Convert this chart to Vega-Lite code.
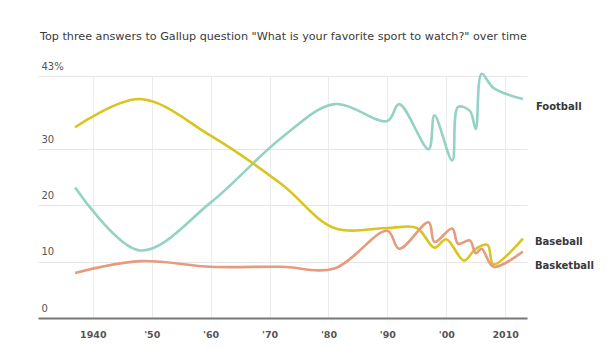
{
  "$schema": "https://vega.github.io/schema/vega-lite/v6.json",
  "width": 489,
  "height": 242,
  "autosize": {"type": "none"},
  "padding": {"left": 38, "top": 76, "right": 88, "bottom": 41},
  "background": "white",
  "title": {
    "text": "Top three answers to Gallup question \"What is your favorite sport to watch?\" over time",
    "anchor": "start",
    "frame": "group",
    "offset": 19,
    "fontSize": 11.2,
    "font": "DejaVu Sans",
    "fontWeight": "normal",
    "color": "#3a3a3a",
    "dx": 2
  },
  "config": {"view": {"stroke": null}},
  "data": {
    "values": [
      {"sport": "Football", "year": 1937, "pct": 23.2},
      {"sport": "Football", "year": 1948, "pct": 12.0},
      {"sport": "Football", "year": 1960, "pct": 20.5},
      {"sport": "Football", "year": 1972, "pct": 32.0},
      {"sport": "Football", "year": 1981, "pct": 38.0},
      {"sport": "Football", "year": 1990, "pct": 35.0},
      {"sport": "Football", "year": 1992, "pct": 38.0},
      {"sport": "Football", "year": 1997, "pct": 30.0},
      {"sport": "Football", "year": 1998, "pct": 36.0},
      {"sport": "Football", "year": 2001, "pct": 28.0},
      {"sport": "Football", "year": 2002, "pct": 37.5},
      {"sport": "Football", "year": 2004, "pct": 36.8},
      {"sport": "Football", "year": 2005, "pct": 33.6},
      {"sport": "Football", "year": 2006, "pct": 43.4},
      {"sport": "Football", "year": 2008, "pct": 40.9},
      {"sport": "Football", "year": 2013, "pct": 38.9},
      {"sport": "Baseball", "year": 1937, "pct": 33.9},
      {"sport": "Baseball", "year": 1948, "pct": 38.9},
      {"sport": "Baseball", "year": 1960, "pct": 32.4},
      {"sport": "Baseball", "year": 1972, "pct": 23.8},
      {"sport": "Baseball", "year": 1981, "pct": 16.0},
      {"sport": "Baseball", "year": 1990, "pct": 16.0},
      {"sport": "Baseball", "year": 1995, "pct": 16.0},
      {"sport": "Baseball", "year": 1998, "pct": 12.5},
      {"sport": "Baseball", "year": 2000, "pct": 14.0},
      {"sport": "Baseball", "year": 2003, "pct": 10.2},
      {"sport": "Baseball", "year": 2005, "pct": 12.3},
      {"sport": "Baseball", "year": 2007, "pct": 13.0},
      {"sport": "Baseball", "year": 2008, "pct": 9.5},
      {"sport": "Baseball", "year": 2013, "pct": 14.1},
      {"sport": "Basketball", "year": 1937, "pct": 8.0},
      {"sport": "Basketball", "year": 1948, "pct": 10.1},
      {"sport": "Basketball", "year": 1960, "pct": 9.1},
      {"sport": "Basketball", "year": 1972, "pct": 9.1},
      {"sport": "Basketball", "year": 1981, "pct": 8.8},
      {"sport": "Basketball", "year": 1990, "pct": 15.5},
      {"sport": "Basketball", "year": 1992, "pct": 12.3},
      {"sport": "Basketball", "year": 1997, "pct": 17.0},
      {"sport": "Basketball", "year": 1998, "pct": 13.5},
      {"sport": "Basketball", "year": 2001, "pct": 15.9},
      {"sport": "Basketball", "year": 2002, "pct": 13.2},
      {"sport": "Basketball", "year": 2004, "pct": 13.8},
      {"sport": "Basketball", "year": 2005, "pct": 11.5},
      {"sport": "Basketball", "year": 2006, "pct": 12.3},
      {"sport": "Basketball", "year": 2008, "pct": 9.1},
      {"sport": "Basketball", "year": 2013, "pct": 11.8}
    ]
  },
  "layer": [
    {
      "mark": {"type": "line", "interpolate": "catmull-rom", "strokeWidth": 2.6},
      "encoding": {
        "x": {
          "field": "year",
          "type": "quantitative",
          "scale": {"domain": [1930.7, 2013.7], "nice": false, "zero": false},
          "axis": {
            "values": [1940, 1950, 1960, 1970, 1980, 1990, 2000, 2010],
            "title": null,
            "grid": true,
            "gridColor": "#ececec",
            "ticks": false,
            "domain": true,
            "domainColor": "#777777",
            "domainWidth": 2,
            "labelPadding": 11,
            "labelFontSize": 9.5,
            "labelFont": "DejaVu Sans",
            "labelFontWeight": "bold",
            "labelColor": "#555555",
            "labelExpr": "datum.value == 1940 || datum.value == 2010 ? toString(datum.value) : \"'\" + substring(toString(datum.value), 2)"
          }
        },
        "y": {
          "field": "pct",
          "type": "quantitative",
          "scale": {"domain": [0, 43], "nice": false},
          "axis": {
            "values": [0, 10, 20, 30, 43],
            "title": null,
            "domain": false,
            "ticks": false,
            "grid": true,
            "gridColor": "#e6e6e6",
            "labelAlign": "left",
            "labelBaseline": "bottom",
            "labelPadding": -3,
            "labelOffset": -5,
            "labelFontSize": 10,
            "labelFont": "DejaVu Sans",
            "labelColor": "#555555",
            "labelExpr": "datum.value == 43 ? '43%' : toString(datum.value)"
          }
        },
        "color": {
          "field": "sport",
          "type": "nominal",
          "scale": {"domain": ["Football", "Baseball", "Basketball"], "range": ["#93d2c4", "#dac41f", "#e69a7e"]},
          "legend": null
        }
      }
    },
    {
      "transform": [{"filter": "datum.sport == 'Football' && datum.year == 2013"}],
      "mark": {"type": "text", "align": "left", "baseline": "middle", "dx": 13, "dy": 8, "fontWeight": "bold", "fontSize": 10, "font": "DejaVu Sans", "color": "#383838"},
      "encoding": {"x": {"field": "year", "type": "quantitative"}, "y": {"field": "pct", "type": "quantitative"}, "text": {"field": "sport"}}
    },
    {
      "transform": [{"filter": "datum.sport == 'Baseball' && datum.year == 2013"}],
      "mark": {"type": "text", "align": "left", "baseline": "middle", "dx": 12, "dy": 3, "fontWeight": "bold", "fontSize": 10, "font": "DejaVu Sans", "color": "#383838"},
      "encoding": {"x": {"field": "year", "type": "quantitative"}, "y": {"field": "pct", "type": "quantitative"}, "text": {"field": "sport"}}
    },
    {
      "transform": [{"filter": "datum.sport == 'Basketball' && datum.year == 2013"}],
      "mark": {"type": "text", "align": "left", "baseline": "middle", "dx": 12, "dy": 14, "fontWeight": "bold", "fontSize": 10, "font": "DejaVu Sans", "color": "#383838"},
      "encoding": {"x": {"field": "year", "type": "quantitative"}, "y": {"field": "pct", "type": "quantitative"}, "text": {"field": "sport"}}
    }
  ]
}
